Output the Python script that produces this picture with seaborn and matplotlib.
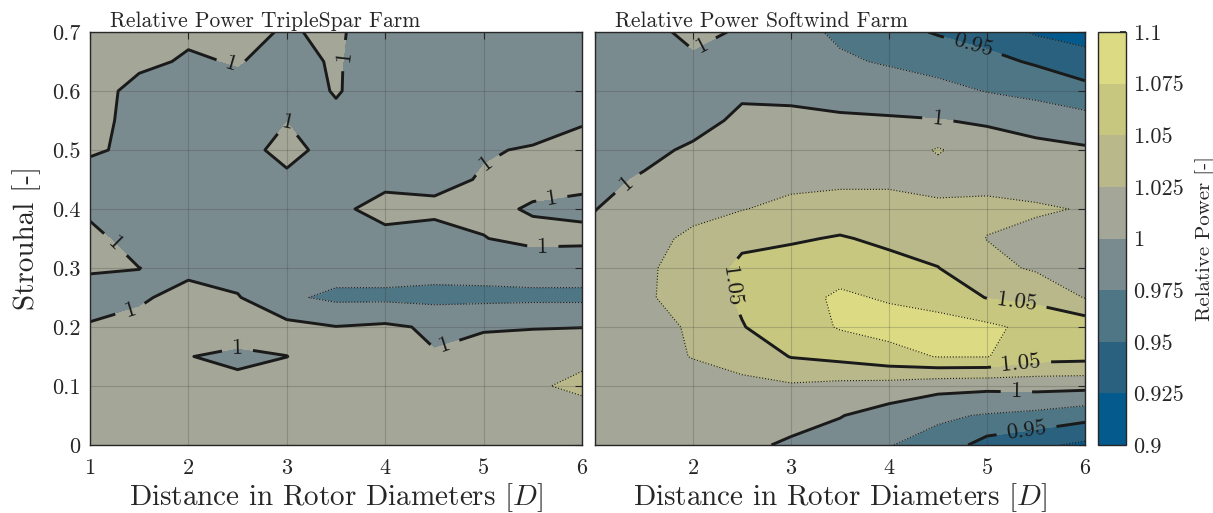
import numpy as np
import matplotlib
matplotlib.use("Agg")
import matplotlib.pyplot as plt
import seaborn as sns
from matplotlib.colors import ListedColormap, BoundaryNorm

# ---------------- data ----------------
distance = [1.0, 1.5, 2.0, 2.5, 3.0, 3.5, 4.0, 4.5, 5.0, 5.5, 6.0]
strouhal = [0.0, 0.05, 0.10, 0.15, 0.20, 0.25, 0.30, 0.35,
            0.40, 0.45, 0.50, 0.55, 0.60, 0.65, 0.70]
levels = [0.9, 0.925, 0.95, 0.975, 1.0, 1.025, 1.05, 1.075, 1.1]
major_levels = [0.95, 1.0, 1.05]
minor_levels = [0.925, 0.975, 1.025, 1.075]

# rows: strouhal (0 -> 0.7), columns: distance (1 -> 6)
power_triplespar = [
    [1.010, 1.010, 1.010, 1.010, 1.010, 1.011, 1.012, 1.012, 1.012, 1.012, 1.012],
    [1.010, 1.010, 1.010, 1.010, 1.010, 1.012, 1.012, 1.012, 1.013, 1.014, 1.015],
    [1.010, 1.010, 1.010, 1.005, 1.010, 1.012, 1.012, 1.012, 1.014, 1.022, 1.030],
    [1.010, 1.010, 1.0005, 0.996, 0.9998, 1.010, 1.010, 1.0013, 1.009, 1.006, 1.020],
    [1.0026, 1.0085, 1.012, 1.010, 1.007, 1.0006, 1.004, 0.9966, 0.998, 0.9995, 0.9995],
    [0.988, 0.996, 1.010, 1.0016, 0.979, 0.970, 0.970, 0.968, 0.969, 0.970, 0.970],
    [1.003, 1.0002, 0.993, 0.990, 0.988, 0.985, 0.985, 0.984, 0.984, 0.985, 0.985],
    [1.010, 0.985, 0.990, 0.990, 0.990, 0.990, 0.993, 0.990, 0.9993, 1.006, 1.005],
    [0.993, 0.990, 0.990, 0.990, 0.990, 0.995, 1.008, 1.0055, 1.005, 0.998, 0.996],
    [0.990, 0.990, 0.990, 0.990, 0.995, 0.990, 0.994, 0.993, 1.002, 1.006, 1.004],
    [1.003, 0.995, 0.990, 0.990, 1.008, 0.990, 0.990, 0.992, 0.998, 1.002, 1.004],
    [1.006, 0.994, 0.990, 0.990, 0.9995, 0.997, 0.993, 0.992, 0.990, 0.990, 0.999],
    [1.008, 0.994, 0.992, 0.995, 0.993, 1.001, 0.993, 0.990, 0.990, 0.988, 0.987],
    [1.010, 1.004, 0.998, 1.001, 0.994, 1.002, 0.988, 0.988, 0.987, 0.986, 0.985],
    [1.010, 1.010, 1.003, 1.006, 0.998, 1.004, 0.985, 0.985, 0.985, 0.985, 0.985],
]

power_softwind = [
    [1.010, 1.008, 1.006, 1.006, 0.996, 0.990, 0.976, 0.966, 0.940, 0.930, 0.920],
    [1.012, 1.010, 1.009, 1.012, 1.010, 1.001, 0.990, 0.979, 0.973, 0.968, 0.959],
    [1.013, 1.013, 1.014, 1.020, 1.022, 1.018, 1.015, 1.008, 1.006, 1.008, 1.007],
    [1.014, 1.016, 1.026, 1.033, 1.051, 1.057, 1.067, 1.076, 1.076, 1.060, 1.058],
    [1.015, 1.016, 1.028, 1.049, 1.062, 1.077, 1.083, 1.083, 1.080, 1.068, 1.066],
    [1.014, 1.021, 1.037, 1.053, 1.068, 1.078, 1.073, 1.067, 1.049, 1.044, 1.024],
    [1.012, 1.021, 1.035, 1.055, 1.062, 1.068, 1.058, 1.0505, 1.032, 1.022, 1.018],
    [1.006, 1.017, 1.030, 1.045, 1.047, 1.052, 1.045, 1.040, 1.0245, 1.020, 1.018],
    [0.9995, 1.011, 1.018, 1.024, 1.032, 1.035, 1.033, 1.031, 1.029, 1.027, 1.024],
    [0.995, 1.002, 1.010, 1.016, 1.018, 1.020, 1.021, 1.015, 1.020, 1.018, 1.013],
    [0.992, 0.995, 1.003, 1.010, 1.010, 1.012, 1.012, 1.027, 1.012, 1.007, 1.003],
    [0.990, 0.992, 0.993, 1.004, 1.004, 1.003, 1.002, 1.001, 0.997, 0.990, 0.984],
    [0.990, 0.990, 0.990, 0.997, 0.996, 0.992, 0.990, 0.983, 0.974, 0.968, 0.958],
    [0.990, 0.990, 0.998, 0.994, 0.990, 0.979, 0.972, 0.965, 0.957, 0.947, 0.935],
    [0.990, 0.996, 1.003, 0.9987, 0.985, 0.970, 0.958, 0.948, 0.940, 0.922, 0.915],
]

band_colors = ["#045a8d", "#2a617e", "#4f7684", "#7a8b8f",
               "#a4a697", "#b8b88b", "#c8c780", "#dcdb84"]

panel_titles = ["Relative Power TripleSpar Farm", "Relative Power Softwind Farm"]
x_label = r"Distance in Rotor Diameters $[D]$"
y_label = "Strouhal [-]"
cbar_label = "Relative Power [-]"
x_ticks = [1, 2, 3, 4, 5, 6]
x_ticklabels_left = ["1", "2", "3", "4", "5", "6"]
x_ticklabels_right = ["", "2", "3", "4", "5", "6"]
y_ticks = [0, 0.1, 0.2, 0.3, 0.4, 0.5, 0.6, 0.7]
y_ticklabels = ["0", "0.1", "0.2", "0.3", "0.4", "0.5", "0.6", "0.7"]

# label anchor points for contour labels (placement only)
labels_left = [(2.42, 0.635), (3.58, 0.66), (3.0, 0.545), (5.05, 0.47),
               (5.7, 0.41), (5.6, 0.345), (1.2, 0.33), (1.4, 0.235),
               (2.5, 0.163), (4.6, 0.17)]
labels_right = [(2.1, 0.675), (1.35, 0.44), (4.5, 0.556), (5.3, 0.092),
                (4.85, 0.673), (5.4, 0.028), (2.42, 0.27), (5.3, 0.237),
                (5.35, 0.133)]

# ---------------- style ----------------
sns.set_theme(style="white")
plt.rcParams["font.family"] = "serif"
plt.rcParams["font.serif"] = ["cmr10", "DejaVu Serif"]
plt.rcParams["mathtext.fontset"] = "cm"
plt.rcParams["axes.formatter.use_mathtext"] = True
plt.rcParams["axes.unicode_minus"] = False

cmap = ListedColormap(sns.color_palette(band_colors))
norm = BoundaryNorm(levels, cmap.N)

W, H = 1213, 513
fig = plt.figure(figsize=(W / 100, H / 100), dpi=100)
ax1 = fig.add_axes([90 / W, 68 / H, 492 / W, 413 / H])
ax2 = fig.add_axes([595 / W, 68 / H, 490 / W, 413 / H])
cax = fig.add_axes([1098 / W, 68 / H, 28 / W, 413 / H])

X, Y = np.meshgrid(distance, strouhal)


def draw(ax, Z, title, manual, show_y, xtl):
    Z = np.array(Z)
    cf = ax.contourf(X, Y, Z, levels=levels, cmap=cmap, norm=norm)
    ax.contour(X, Y, Z, levels=minor_levels, colors="k", linewidths=0.8,
               linestyles=":")
    cs = ax.contour(X, Y, Z, levels=major_levels, colors="k", linewidths=2.1,
                    linestyles="-")
    ax.clabel(cs, fmt="%g", manual=manual, inline=True, fontsize=16.5,
              inline_spacing=10)
    ax.set_xlim(1, 6)
    ax.set_ylim(0, 0.7)
    ax.set_xticks(x_ticks)
    ax.set_xticklabels(xtl)
    ax.set_yticks(y_ticks)
    if show_y:
        ax.set_yticklabels(y_ticklabels)
        ax.set_ylabel(y_label, fontsize=21, labelpad=8)
    else:
        ax.set_yticklabels([])
    ax.set_xlabel(x_label, fontsize=21, labelpad=2)
    ax.tick_params(direction="in", length=5, width=0.8, labelsize=16,
                   top=True, right=True, colors="#262626")
    ax.tick_params(axis="x", pad=10)
    ax.tick_params(axis="y", pad=7)
    ax.set_axisbelow(False)
    ax.grid(True, color="#303030", alpha=0.22, linewidth=0.8)
    for s in ax.spines.values():
        s.set_color("#262626")
        s.set_linewidth(1.0)
    ax.text(0.04, 1.003, title, transform=ax.transAxes, ha="left",
            va="bottom", fontsize=15.5)
    return cf


cf = draw(ax1, power_triplespar, panel_titles[0], labels_left, True,
          x_ticklabels_left)
draw(ax2, power_softwind, panel_titles[1], labels_right, False,
     x_ticklabels_right)

cb = fig.colorbar(cf, cax=cax, ticks=levels)
cb.ax.set_yticklabels(["%g" % v for v in levels])
cb.ax.tick_params(direction="in", length=4, labelsize=16, colors="#262626",
                  pad=5)
cb.outline.set_linewidth(1.0)
cb.set_label(cbar_label, fontsize=15, labelpad=8)

fig.savefig("out.png", dpi=100)
